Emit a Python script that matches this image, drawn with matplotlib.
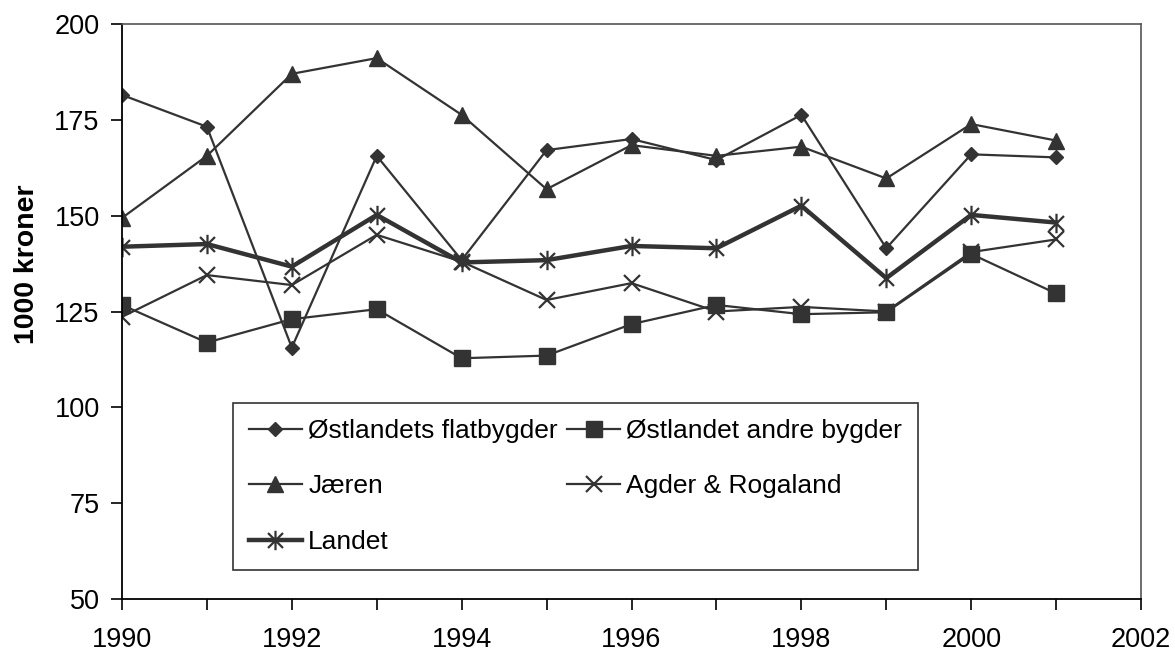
import matplotlib
matplotlib.use('Agg')
import matplotlib.pyplot as plt
from matplotlib.path import Path
import numpy as np

plt.rc('font', family=['Liberation Sans', 'DejaVu Sans'])

years = [1990, 1991, 1992, 1993, 1994, 1995, 1996, 1997, 1998, 1999, 2000, 2001]

flatbygder = [181.5, 173.2, 115.6, 165.6, 138.4, 167.1, 170.0, 164.5, 176.3, 141.5, 166.0, 165.2]
andre_bygder = [126.7, 116.9, 123.0, 125.6, 112.8, 113.5, 121.7, 126.7, 124.3, 124.8, 140.0, 129.7]
jaeren = [149.4, 165.6, 187.0, 191.1, 176.3, 156.9, 168.4, 165.6, 168.0, 159.7, 173.9, 169.6]
agder_rogaland = [123.6, 134.5, 131.9, 145.0, 138.0, 128.0, 132.4, 125.0, 126.2, 125.0, 140.5, 143.8]
landet = [141.9, 142.6, 136.7, 150.2, 137.8, 138.4, 142.1, 141.5, 152.6, 133.7, 150.2, 148.2]

col = '#333333'

# excel style asterisk: X plus a vertical bar
star = Path([(-1, -1), (1, 1), (-1, 1), (1, -1), (0, -1.3), (0, 1.3)],
            [Path.MOVETO, Path.LINETO, Path.MOVETO, Path.LINETO, Path.MOVETO, Path.LINETO])

fig = plt.figure(figsize=(11.75, 6.54), dpi=100)
ax = fig.add_axes([0.1038, 0.0841, 0.8673, 0.8792])

l1, = ax.plot(years, flatbygder, color=col, lw=1.6, marker='D', ms=7.5, label='Østlandets flatbygder')
l2, = ax.plot(years, andre_bygder, color=col, lw=1.6, marker='s', ms=11, label='Østlandet andre bygder')
l3, = ax.plot(years, jaeren, color=col, lw=1.6, marker='^', ms=11, label='Jæren')
l4, = ax.plot(years, agder_rogaland, color=col, lw=1.6, marker='x', ms=11, mew=1.6, label='Agder & Rogaland')
l5, = ax.plot(years, landet, color=col, lw=3.2, marker=star, ms=14, mew=1.6, label='Landet')

ax.set_xlim(1990, 2002)
ax.set_ylim(50, 200)
ax.set_yticks(np.arange(50, 201, 25))
ax.set_xticks(np.arange(1990, 2003, 2))
ax.set_xticks(np.arange(1990, 2003, 1), minor=True)
ax.tick_params(axis='both', labelsize=19.5, direction='out', length=8, width=1.2, color='black')
ax.tick_params(axis='x', which='minor', direction='out', length=8, width=1.2)
ax.tick_params(axis='x', pad=12)
ax.tick_params(axis='y', pad=8)

for s in ['left', 'bottom']:
    ax.spines[s].set_color('black')
    ax.spines[s].set_linewidth(1.3)
for s in ['top', 'right']:
    ax.spines[s].set_color('#555555')
    ax.spines[s].set_linewidth(1.2)

ax.set_ylabel('1000 kroner', fontsize=20.5, fontweight='bold')
ax.yaxis.set_label_coords(-0.08, 0.583)

handles = [l1, l3, l5, l2, l4]
leg = ax.legend(handles, [h.get_label() for h in handles],
                ncol=2, loc='upper left', bbox_to_anchor=(0.109, 0.341),
                fontsize=19, frameon=True, fancybox=False, edgecolor='black',
                handlelength=2.0, handletextpad=0.25, columnspacing=0.35, labelspacing=1.2,
                borderpad=0.6, borderaxespad=0)
leg.get_frame().set_linewidth(1.2)

fig.savefig('out.png', dpi=100)
